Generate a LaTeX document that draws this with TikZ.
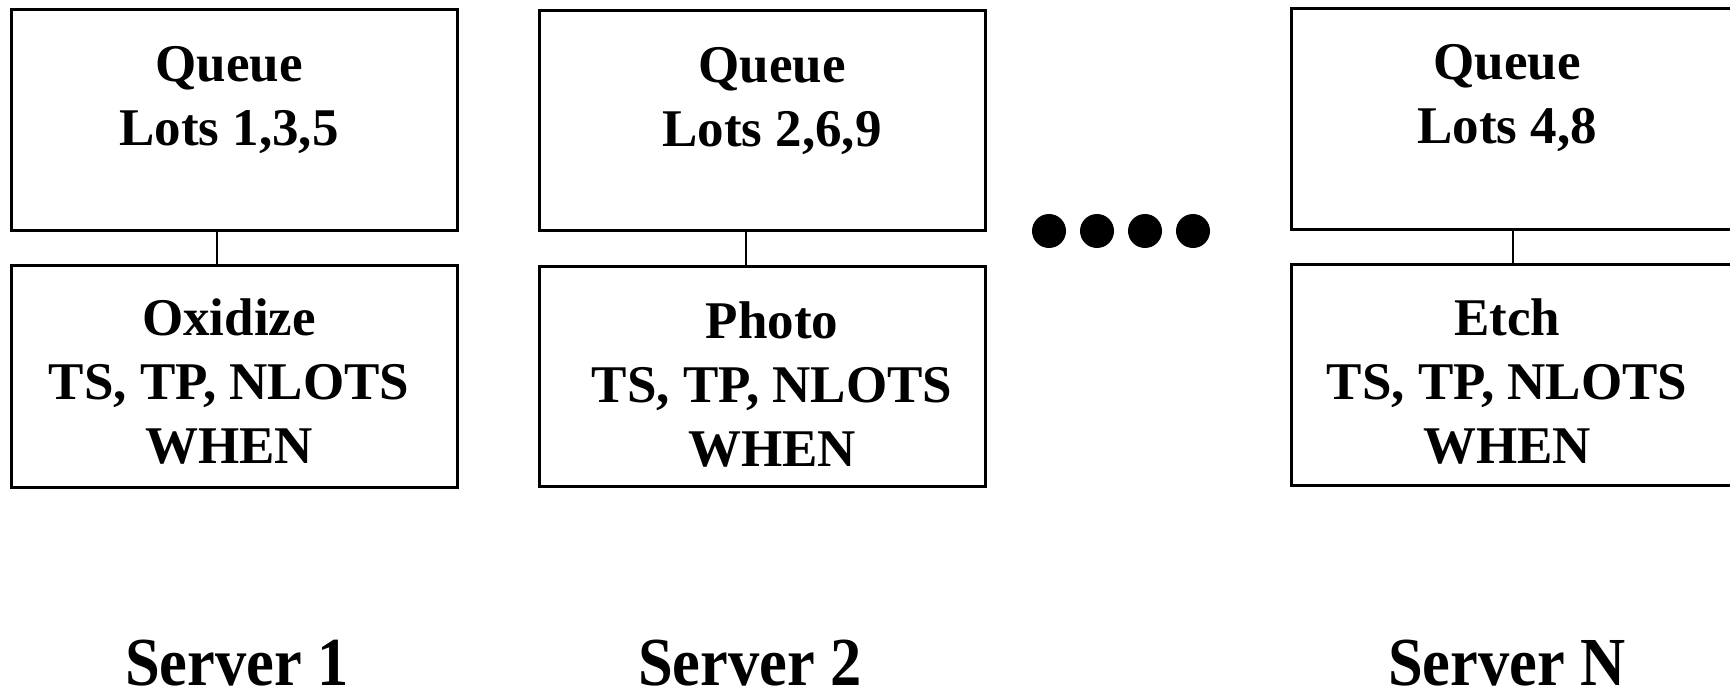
\documentclass[tikz,border=0pt]{standalone}
\usepackage{fontspec}
\usepackage{graphicx}
\setmainfont{Liberation Serif}
\begin{document}
\begin{tikzpicture}[x=1pt,y=-1pt,
  box/.style={draw, line width=2.8pt, rectangle, inner sep=0pt, anchor=north west},
  link/.style={line width=2.8pt},
  boxtext/.style={anchor=north, inner sep=0pt, align=center, font=\fontsize{53}{64}\selectfont\bfseries},
  srv/.style={anchor=base, inner sep=0pt, font=\fontsize{62.5}{70}\selectfont\bfseries},
  dot/.style={circle, fill=black, inner sep=0pt, minimum size=34pt}]
\useasboundingbox (0,0) rectangle (1730,690);
% Server 1
\node[box, minimum width=446pt, minimum height=221pt] (q1) at (10,8) {};
\node[box, minimum width=446pt, minimum height=222pt] (s1) at (10,264) {};
\coordinate (q1b) at (217,229);
\coordinate (s1t) at (217,264);
\draw[link] (q1b) -- (s1t);
\node[boxtext] (q1t) at (229,46) {Queue\\Lots 1,3,5};
\node[boxtext] (s1x) at (229,299) {Oxidize\\TS, TP, NLOTS\\WHEN};
% Server 2
\node[box, minimum width=446pt, minimum height=220pt] (q2) at (538,9) {};
\node[box, minimum width=446pt, minimum height=220pt] (s2) at (538,265) {};
\coordinate (q2b) at (746,229);
\coordinate (s2t) at (746,265);
\draw[link] (q2b) -- (s2t);
\node[boxtext] (q2t) at (772,47) {Queue\\Lots 2,6,9};
\node[boxtext] (s2x) at (772,302) {Photo\\TS, TP, NLOTS\\WHEN};
% Server N
\node[box, minimum width=460pt, minimum height=221pt] (qn) at (1290,7) {};
\node[box, minimum width=460pt, minimum height=221pt] (sn) at (1290,263) {};
\coordinate (qnb) at (1513,228);
\coordinate (snt) at (1513,263);
\draw[link] (qnb) -- (snt);
\node[boxtext] (qnt) at (1507,44) {Queue\\Lots 4,8};
\node[boxtext] (snx) at (1507,299) {Etch\\TS, TP, NLOTS\\WHEN};
% dots
\node[dot] (d1) at (1049,231) {};
\node[dot] (d2) at (1097,231) {};
\node[dot] (d3) at (1145,231) {};
\node[dot] (d4) at (1193,231) {};
% labels
\node[srv] (l1) at (237,685) {\scalebox{1}[1.1]{Server 1}};
\node[srv] (l2) at (750,685) {\scalebox{1}[1.1]{Server 2}};
\node[srv] (ln) at (1507,685) {\scalebox{1}[1.1]{Server N}};
\end{tikzpicture}
\end{document}
